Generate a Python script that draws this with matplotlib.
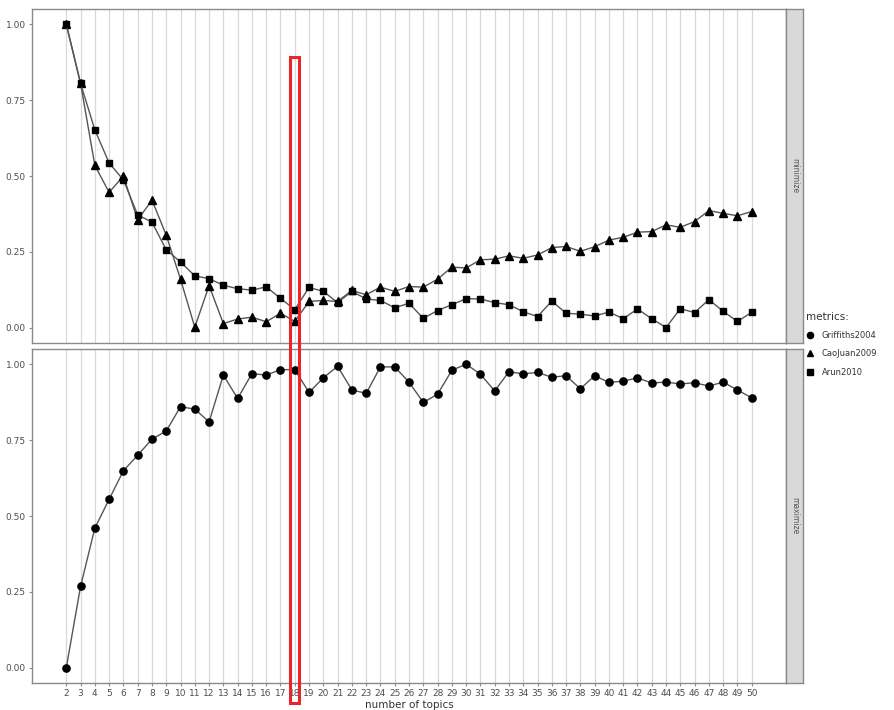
import matplotlib
matplotlib.use("Agg")
import matplotlib.pyplot as plt
from matplotlib.lines import Line2D
from matplotlib.patches import Rectangle
from matplotlib.transforms import blended_transform_factory

topics = list(range(2, 51))

arun2010 = [1.00, 0.805, 0.652, 0.543, 0.487, 0.372, 0.348, 0.257, 0.217, 0.171,
            0.162, 0.140, 0.129, 0.124, 0.135, 0.097, 0.060, 0.133, 0.120, 0.083,
            0.120, 0.095, 0.090, 0.066, 0.081, 0.031, 0.057, 0.076, 0.096, 0.095,
            0.083, 0.076, 0.053, 0.037, 0.088, 0.048, 0.045, 0.039, 0.052, 0.030,
            0.062, 0.030, 0.001, 0.063, 0.050, 0.093, 0.054, 0.021, 0.051]

caojuan2009 = [1.00, 0.805, 0.535, 0.446, 0.500, 0.355, 0.421, 0.305, 0.160, 0.002,
               0.139, 0.014, 0.029, 0.035, 0.020, 0.048, 0.021, 0.087, 0.090, 0.087,
               0.123, 0.109, 0.134, 0.120, 0.136, 0.134, 0.160, 0.200, 0.197, 0.224,
               0.226, 0.237, 0.229, 0.240, 0.264, 0.268, 0.252, 0.267, 0.289, 0.298,
               0.315, 0.317, 0.339, 0.331, 0.350, 0.386, 0.377, 0.369, 0.383]

griffiths2004 = [0.000, 0.268, 0.460, 0.555, 0.649, 0.700, 0.753, 0.780, 0.860, 0.852,
                 0.810, 0.964, 0.887, 0.969, 0.964, 0.982, 0.982, 0.907, 0.955, 0.993,
                 0.915, 0.904, 0.991, 0.991, 0.941, 0.874, 0.901, 0.980, 1.000, 0.967,
                 0.912, 0.975, 0.968, 0.973, 0.957, 0.962, 0.919, 0.962, 0.940, 0.944,
                 0.955, 0.938, 0.941, 0.935, 0.939, 0.928, 0.941, 0.915, 0.889]

y_ticks = [0.00, 0.25, 0.50, 0.75, 1.00]
y_ticklabels = ["0.00", "0.25", "0.50", "0.75", "1.00"]
strip_labels = ["minimize", "maximize"]
metric_names = ["Griffiths2004", "CaoJuan2009", "Arun2010"]
highlight_topic = 18

W, H = 894, 710
fig = plt.figure(figsize=(W / 100, H / 100), dpi=100)

def fx(px):
    return px / W

def fy(px):
    return 1 - px / H

left, right = 32, 786
ax_top = fig.add_axes([fx(left), fy(343), fx(right - left), (343 - 9) / H])
ax_bot = fig.add_axes([fx(left), fy(683), fx(right - left), (683 - 349) / H])

border_col = "#8a8a8a"
grid_col = "#d9d9d9"
line_col = "#555555"
tick_col = "#4d4d4d"

for ax in (ax_top, ax_bot):
    ax.set_xlim(-0.4, 52.4)
    ax.set_ylim(-0.05, 1.05)
    ax.set_xticks(topics)
    ax.set_yticks(y_ticks)
    ax.set_yticklabels(y_ticklabels)
    ax.grid(axis="x", color=grid_col, linewidth=0.9)
    ax.grid(axis="y", visible=False)
    ax.set_axisbelow(True)
    for s in ax.spines.values():
        s.set_color(border_col)
        s.set_linewidth(1.0)
    ax.tick_params(axis="both", colors=border_col, labelcolor=tick_col,
                   labelsize=6.5, length=2.5, width=0.8, pad=2)

ax_top.tick_params(axis="x", bottom=False, labelbottom=False)

ax_top.plot(topics, caojuan2009, color=line_col, lw=1.0, marker="^",
            markersize=5.6, markerfacecolor="black", markeredgecolor="black", zorder=3)
ax_top.plot(topics, arun2010, color=line_col, lw=1.0, marker="s",
            markersize=5.0, markerfacecolor="black", markeredgecolor="black", zorder=3)
ax_bot.plot(topics, griffiths2004, color=line_col, lw=1.0, marker="o",
            markersize=5.2, markerfacecolor="black", markeredgecolor="black", zorder=3)

ax_bot.set_xlabel("number of topics", fontsize=7.5, color="#333333", labelpad=1)

# strips
for (ytop, ybot), lab in zip([(9, 343), (349, 683)], strip_labels):
    sax = fig.add_axes([fx(786), fy(ybot), fx(803 - 786), (ybot - ytop) / H])
    sax.set_xticks([])
    sax.set_yticks([])
    sax.set_facecolor("#d9d9d9")
    for s in sax.spines.values():
        s.set_color(border_col)
        s.set_linewidth(1.0)
    sax.text(0.5, 0.5, lab, rotation=-90, ha="center", va="center",
             fontsize=5.5, color="#555555", transform=sax.transAxes)

# legend
handles = [
    Line2D([], [], linestyle="none", marker="o", color="black", markersize=4.5),
    Line2D([], [], linestyle="none", marker="^", color="black", markersize=5),
    Line2D([], [], linestyle="none", marker="s", color="black", markersize=4.3),
]
leg = fig.legend(handles, metric_names, title="metrics:", loc="upper left",
                 bbox_to_anchor=(fx(806), fy(312)), frameon=False,
                 fontsize=6, title_fontsize=7.5, handlelength=1.0,
                 handletextpad=0.9, labelspacing=1.1, borderaxespad=0,
                 borderpad=0)
leg._legend_box.align = "left"
for t in leg.get_texts():
    t.set_color("#333333")
leg.get_title().set_color("#333333")

# red highlight rectangle
trans = blended_transform_factory(ax_top.transData, fig.transFigure)
rect = Rectangle((highlight_topic - 0.32, fy(703)), 0.64, fy(57) - fy(703),
                 transform=trans, fill=False, edgecolor="#e8252a", linewidth=2.2,
                 clip_on=False, zorder=10)
fig.patches.append(rect)

fig.savefig("out.png", dpi=100)
